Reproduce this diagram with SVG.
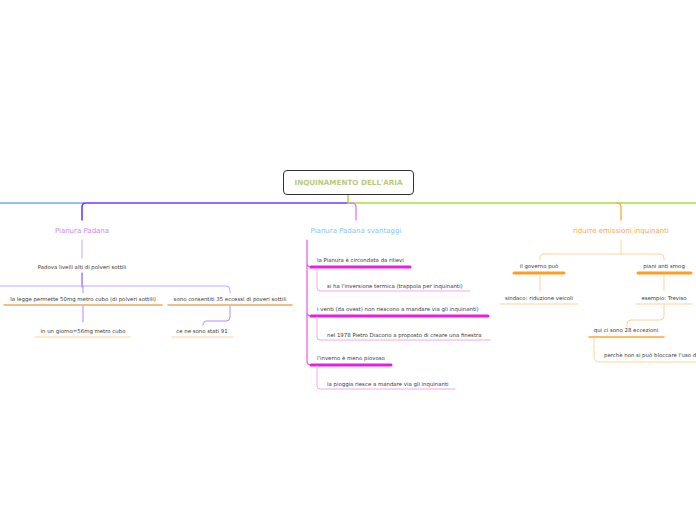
<svg xmlns="http://www.w3.org/2000/svg" width="696" height="520" viewBox="0 0 696 520">
<style>
text{font-family:"DejaVu Sans","Liberation Sans",sans-serif;font-size:5.4px;fill:#3a3a3a}
.l{fill:none;stroke-linecap:round}
.br{font-size:7px}
</style>
<rect width="696" height="520" fill="#fff"/>
<g id="connectors">
  <path class="l" d="M0,203 H84" stroke="#77a6ff" stroke-width="1.6"/>
  <path class="l" d="M348,203 H86 Q82,203 82,207 V220" stroke="#6a3cff" stroke-width="1.6"/>
  <path class="l" d="M348,194 V203 H696" stroke="#a6e040" stroke-width="1.6"/>
  <path class="l" d="M349,203 H352 Q356,203 356,207 V220" stroke="#f07cf0" stroke-width="1.4"/>
  <path class="l" d="M617,203 Q621,203 621,207 V220" stroke="#f5b24f" stroke-width="1.4"/>
  <!-- Pianura Padana subtree -->
  <path class="l" d="M82,240 V258" stroke="#c9a6ff" stroke-width="1"/>
  <path class="l" d="M82,273 V287" stroke="#6a3cff" stroke-width="1"/>
  <path class="l" d="M0,286 H226 Q230,286 230,290 V293" stroke="#c9a6ff" stroke-width="1"/>
  <path class="l" d="M83,286 V293 M83,306 V322" stroke="#b08cff" stroke-width="1"/>
  <path class="l" d="M230,306 V317 Q230,321 226,321 H207 Q203,321 203,325" stroke="#b08cff" stroke-width="1"/>
  <path class="l" d="M4,305 H162 M168,305 H292" stroke="#f0a860" stroke-width="1.5"/>
  <path class="l" d="M35,337 H130 M172,337 H233" stroke="#fcd6a6" stroke-width="1"/>
  <!-- svantaggi subtree -->
  <path class="l" d="M307,240 V263 Q307,267 311,267 M307,263 V312 Q307,316 311,316 M307,312 V361 Q307,365 311,365" stroke="#f055f0" stroke-width="1.2"/>
  <path class="l" d="M311,267 H410 M311,316 H488 M311,365 H391" stroke="#e61ee6" stroke-width="3"/>
  <path class="l" d="M317,268 V288 Q317,291 320,291 H470 M317,317 V337 Q317,340 320,340 H490 M317,366 V386 Q317,389 320,389 H455" stroke="#f2a6f2" stroke-width="1"/>
  <!-- ridurre subtree -->
  <path class="l" d="M621,240 V254 M544,254 H660 Q664,254 664,258 V260 M544,254 Q540,254 540,258 V260" stroke="#fcd39a" stroke-width="1"/>
  <path class="l" d="M514,273 H564 M638,273 H691" stroke="#ff9d1e" stroke-width="3"/>
  <path class="l" d="M540,274 V291 M664,274 V291" stroke="#fcd39a" stroke-width="1"/>
  <path class="l" d="M500,304 H578 M636,304 H692" stroke="#fcd39a" stroke-width="1"/>
  <path class="l" d="M664,305 V316 Q664,320 660,320 H631 Q627,320 627,324 V327" stroke="#fcd39a" stroke-width="1"/>
  <path class="l" d="M589,337 H664" stroke="#ffa52e" stroke-width="1.5"/>
  <path class="l" d="M594,338 V356 Q594,362 600,362 H696" stroke="#fcd39a" stroke-width="1"/>
</g>
<g id="root">
  <rect x="283.5" y="170.5" width="130" height="24" rx="3.5" fill="#fff" stroke="#333" stroke-width="1"/>
  <text x="348.5" y="184.8" text-anchor="middle" style="font-size:7.2px;font-weight:bold;fill:#bccb78">INQUINAMENTO DELL'ARIA</text>
</g>
<g id="pianura-padana"><text class="br" x="82" y="232.5" text-anchor="middle" style="fill:#cc88ee">Pianura Padana</text></g>
<g id="padova"><text x="82" y="269" text-anchor="middle">Padova livelli alti di polveri sottili</text></g>
<g id="legge"><text x="83" y="301" text-anchor="middle">la legge permette 50mg metro cubo (di polveri sottili)</text></g>
<g id="giorno"><text x="83" y="333" text-anchor="middle">in un giorno=56mg metro cubo</text></g>
<g id="consentiti"><text x="230" y="301" text-anchor="middle">sono consentiti 35 eccessi di poveri sottili</text></g>
<g id="stati91"><text x="202" y="333" text-anchor="middle">ce ne sono stati 91</text></g>
<g id="svantaggi"><text class="br" x="356" y="232.5" text-anchor="middle" style="fill:#88c4ee">Pianura Padana svantaggi</text></g>
<g id="rilievi"><text x="317" y="262">la Pianura è circondata da rilievi</text></g>
<g id="inversione"><text x="327" y="288">si ha l'inversione termica (trappola per inquinanti)</text></g>
<g id="venti"><text x="317" y="311">i venti (da ovest) non riescono a mandare via gli inquinanti)</text></g>
<g id="diacono"><text x="327" y="337">nel 1978 Pietro Diacono a proposto di creare una finestra</text></g>
<g id="inverno"><text x="317" y="360">l'inverno è meno piovoso</text></g>
<g id="pioggia"><text x="327" y="386">la pioggia riesce a mandare via gli inquinanti</text></g>
<g id="ridurre"><text class="br" x="621" y="232.5" text-anchor="middle" style="fill:#f5a855">ridurre emissioni inquinanti</text></g>
<g id="governo"><text x="539" y="268" text-anchor="middle">il governo può</text></g>
<g id="smog"><text x="664" y="268" text-anchor="middle">piani anti smog</text></g>
<g id="sindaco"><text x="539" y="300" text-anchor="middle">sindaco: riduzione veicoli</text></g>
<g id="treviso"><text x="664" y="300" text-anchor="middle">esempio: Treviso</text></g>
<g id="eccezioni"><text x="626" y="332" text-anchor="middle">qui ci sono 28 eccezioni</text></g>
<g id="perche"><text x="604" y="357">perchè non si può bloccare l'uso d</text></g>
</svg>
